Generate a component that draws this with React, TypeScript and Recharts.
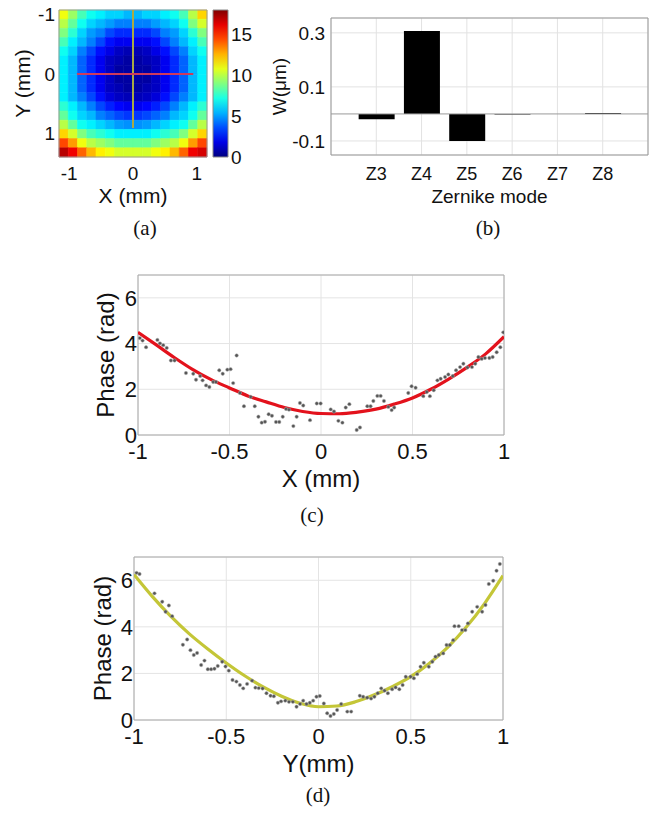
import React from 'react';
import {
  ComposedChart,
  BarChart,
  Bar,
  Line,
  Scatter,
  XAxis,
  YAxis,
  CartesianGrid,
  ReferenceArea,
  ReferenceLine,
  Label,
} from 'recharts';

// ---- (a) wavefront map, 16 x 16 cells, rows top (y=-1) to bottom (y=1.4)
const mapXDomain: [number, number] = [-1.16, 1.16];
const mapYDomain: [number, number] = [-1.08, 1.4];
const mapTicks = [-1, 0, 1];
const colorbarTicks = [0, 5, 10, 15];
const colorbarMax = 18;
const mapValues: number[][] = [
  [11, 9.5, 8, 7, 6.5, 6, 6, 5.5, 5.5, 6, 6, 6.5, 7, 8, 10, 12],
  [10, 8.5, 7, 6, 5.5, 5, 4.5, 4.5, 4.5, 4.5, 5, 5.5, 6, 7, 9, 10.5],
  [9, 7.5, 6, 5, 4.5, 3.5, 3, 3, 3, 3, 3.5, 4.5, 5, 6, 7.5, 9],
  [8, 6.5, 5.5, 4.5, 3.5, 2.5, 2, 2, 2, 2, 2.5, 3.5, 4.5, 5.5, 6.5, 8],
  [7, 6, 4.5, 3.5, 2.5, 1.8, 1.2, 0.9, 0.9, 1.2, 1.8, 2.5, 3.5, 4.5, 6, 7],
  [6.5, 5.5, 4, 3, 2, 1.2, 0.9, 0.6, 0.6, 0.9, 1.2, 2, 3, 4, 5.5, 6.5],
  [6.5, 5.5, 4, 3, 2, 1.2, 0.6, 0.6, 0.6, 0.6, 1.2, 2, 3, 4, 5.5, 6.5],
  [6.5, 5.5, 4, 3, 2, 1.2, 0.6, 0.6, 0.6, 0.6, 1.2, 2, 3, 4, 5.5, 6.5],
  [6.5, 5.5, 4, 3, 2, 1.2, 0.9, 0.6, 0.6, 0.9, 1.2, 2, 3, 4, 5.5, 6.5],
  [6.5, 5.5, 4.5, 3.5, 2.5, 1.6, 1.2, 1, 1, 1.2, 1.6, 2.5, 3.5, 4.5, 5.5, 6.5],
  [7.5, 6.5, 5.5, 4.5, 3.5, 2.8, 2.3, 2, 2, 2.3, 2.8, 3.5, 4.5, 5.5, 6.5, 7.5],
  [8.5, 7, 6, 5.5, 4.5, 4, 3.5, 3.2, 3.2, 3.5, 4, 4.5, 5.5, 6, 7, 8.5],
  [10, 8.5, 7, 6.5, 6, 5.5, 5, 4.8, 4.8, 5, 5.5, 6, 6.5, 7, 8.5, 10],
  [12, 10.5, 9, 8, 7.5, 7, 6.5, 6.5, 6.5, 6.5, 7, 7.5, 8, 9, 10.5, 12],
  [14.5, 13, 11, 10, 9.5, 9, 8.5, 8.5, 8.5, 8.5, 9, 9.5, 10, 11, 13, 14.5],
  [17, 16, 14, 12.5, 11.5, 11, 10.5, 10.5, 10.5, 10.5, 11, 11.5, 12.5, 14, 16, 16.5],
];
const crossH = [{ x: -0.88, y: 0 }, { x: 0.945, y: 0 }];
const crossV = [{ x: 0, y: -1.08 }, { x: 0, y: 0.91 }];

// ---- (b) Zernike coefficients
const zernikeModes = ['Z3', 'Z4', 'Z5', 'Z6', 'Z7', 'Z8'];
const zernikeIndex = [3, 4, 5, 6, 7, 8];
const zernikeValues = [-0.02, 0.307, -0.1, -0.002, 0, 0.003];
const zernikeTicks = [-0.1, 0.1, 0.3];

// ---- (c) phase along X
const phaseTicksX = [-1, -0.5, 0, 0.5, 1];
const phaseTicksY = [0, 2, 4, 6];
const xMeasX = [-0.99, -0.975, -0.956, -0.894, -0.88, -0.862, -0.843, -0.82, -0.8, -0.738, -0.698, -0.683, -0.66, -0.647, -0.628, -0.61, -0.589, -0.574, -0.556, -0.537, -0.512, -0.494, -0.48, -0.461, -0.443, -0.421, -0.384, -0.362, -0.342, -0.324, -0.306, -0.286, -0.268, -0.246, -0.228, -0.209, -0.191, -0.175, -0.151, -0.133, -0.115, -0.097, -0.06, -0.023, -0.002, 0.053, 0.071, 0.095, 0.117, 0.135, 0.155, 0.195, 0.213, 0.253, 0.271, 0.286, 0.308, 0.326, 0.344, 0.368, 0.386, 0.4, 0.477, 0.495, 0.517, 0.559, 0.578, 0.595, 0.616, 0.636, 0.654, 0.678, 0.696, 0.72, 0.738, 0.76, 0.778, 0.8, 0.825, 0.843, 0.86, 0.878, 0.896, 0.92, 0.938, 0.96, 0.98, 0.996];
const xMeasPhase = [4.24, 4.13, 3.84, 4.16, 4.01, 3.93, 3.81, 3.26, 3.26, 2.71, 2.68, 2.42, 2.58, 2.39, 2.17, 2.1, 2.32, 2.32, 2.83, 2.68, 2.86, 2.88, 2.27, 3.48, 1.84, 1.26, 1.67, 1.26, 0.8, 0.54, 0.58, 0.91, 0.84, 0.57, 0.57, 0.8, 1.14, 1.11, 0.39, 0.8, 1.4, 1.29, 0.65, 1.38, 1.38, 1.12, 1.03, 0.62, 0.54, 1.2, 1.35, 0.22, 0.33, 1.26, 1.26, 1.49, 1.71, 1.71, 1.49, 1.23, 1.09, 1.2, 1.84, 2.13, 2.07, 1.7, 1.88, 1.7, 1.96, 2.39, 2.46, 2.54, 2.65, 2.58, 2.83, 2.97, 3.12, 2.95, 2.97, 3.12, 3.41, 3.33, 3.37, 3.37, 3.41, 3.62, 3.84, 4.49];
const fitPos = [-1, -0.9, -0.8, -0.7, -0.6, -0.5, -0.4, -0.3, -0.2, -0.1, 0, 0.1, 0.2, 0.3, 0.4, 0.5, 0.6, 0.7, 0.8, 0.9, 1];
const xFitPhase = [4.49, 3.94, 3.38, 2.86, 2.42, 2.06, 1.71, 1.45, 1.2, 1.03, 0.94, 0.93, 1.0, 1.13, 1.35, 1.62, 2.0, 2.46, 2.97, 3.55, 4.3];

// ---- (d) phase along Y
const yMeasY = [-0.986, -0.97, -0.889, -0.847, -0.829, -0.811, -0.793, -0.735, -0.712, -0.694, -0.676, -0.658, -0.636, -0.618, -0.6, -0.582, -0.564, -0.546, -0.522, -0.504, -0.486, -0.466, -0.445, -0.426, -0.408, -0.387, -0.36, -0.342, -0.324, -0.303, -0.282, -0.26, -0.242, -0.22, -0.203, -0.18, -0.16, -0.139, -0.119, -0.1, -0.083, -0.065, -0.047, -0.029, -0.011, 0.007, 0.029, 0.047, 0.065, 0.083, 0.101, 0.123, 0.156, 0.177, 0.224, 0.242, 0.264, 0.285, 0.303, 0.321, 0.34, 0.358, 0.376, 0.399, 0.418, 0.438, 0.456, 0.473, 0.499, 0.517, 0.535, 0.553, 0.571, 0.598, 0.617, 0.634, 0.652, 0.676, 0.694, 0.712, 0.73, 0.737, 0.76, 0.778, 0.796, 0.81, 0.833, 0.86, 0.887, 0.905, 0.923, 0.947, 0.965, 0.983];
const yMeasPhase = [6.32, 6.27, 5.44, 5.08, 4.65, 4.92, 4.46, 3.23, 3.46, 3.0, 2.79, 2.88, 2.36, 2.55, 2.18, 2.18, 2.2, 2.32, 2.5, 2.3, 2.12, 1.72, 1.65, 1.5, 1.36, 1.55, 1.69, 1.39, 1.37, 1.35, 1.15, 1.04, 1.02, 0.74, 0.8, 0.83, 0.78, 0.78, 0.57, 0.69, 0.83, 0.69, 0.74, 0.83, 1.0, 1.03, 0.71, 0.29, 0.17, 0.26, 0.43, 0.69, 0.36, 0.36, 1.04, 1.0, 0.96, 0.92, 1.0, 1.15, 1.36, 1.26, 1.15, 1.32, 1.4, 1.32, 1.5, 1.86, 1.86, 1.79, 1.97, 2.29, 2.46, 2.29, 2.5, 2.72, 2.79, 2.86, 3.22, 3.22, 3.43, 4.03, 4.03, 3.86, 3.86, 4.15, 4.65, 4.86, 4.65, 4.94, 5.84, 5.98, 6.41, 6.7];
const yFitPhase = [6.25, 5.3, 4.45, 3.7, 3.05, 2.45, 1.9, 1.42, 1.02, 0.72, 0.57, 0.6, 0.78, 1.07, 1.43, 1.86, 2.43, 3.12, 3.98, 5.0, 6.2];

const zip = (xs: number[], ys: number[]) => xs.map((x, i) => ({ x, y: ys[i] }));

const clamp = (v: number) => Math.max(0, Math.min(1, v));
function jet(v: number) {
  const t = clamp(v / colorbarMax);
  const r = clamp(1.5 - Math.abs(4 * t - 3));
  const g = clamp(1.5 - Math.abs(4 * t - 2));
  const b = clamp(1.5 - Math.abs(4 * t - 1));
  return `rgb(${Math.round(r * 255)},${Math.round(g * 255)},${Math.round(b * 255)})`;
}

const ink = '#111';
const sans = 'Liberation Sans, Arial, sans-serif';
const noShape = () => <g />;

function WavefrontMap() {
  const rows = mapValues.length;
  const cols = mapValues[0].length;
  const dx = (mapXDomain[1] - mapXDomain[0]) / cols;
  const dy = (mapYDomain[1] - mapYDomain[0]) / rows;
  const cells: { x1: number; x2: number; y1: number; y2: number; v: number }[] = [];
  mapValues.forEach((row, r) =>
    row.forEach((v, c) =>
      cells.push({
        x1: mapXDomain[0] + c * dx,
        x2: mapXDomain[0] + (c + 1) * dx,
        y1: mapYDomain[0] + r * dy,
        y2: mapYDomain[0] + (r + 1) * dy,
        v,
      })
    )
  );
  const centers = cells.map((c) => ({ x: (c.x1 + c.x2) / 2, y: (c.y1 + c.y2) / 2 }));

  return (
    <ComposedChart width={212} height={215} margin={{ top: 10, right: 5, left: 0, bottom: 0 }}>
      <XAxis
        type="number"
        dataKey="x"
        domain={mapXDomain}
        ticks={mapTicks}
        allowDataOverflow
        height={58}
        tickLine={false}
        axisLine={false}
        tickSize={5}
        tickMargin={5}
        tick={{ fontSize: 19, fill: ink }}
      >
        <Label value="X (mm)" position="insideBottom" offset={12} style={{ fontSize: 21, fill: ink }} />
      </XAxis>
      <YAxis
        type="number"
        dataKey="y"
        domain={mapYDomain}
        reversed
        ticks={mapTicks}
        allowDataOverflow
        width={59}
        tickLine={false}
        axisLine={false}
        tickSize={0}
        tickMargin={4}
        tick={{ fontSize: 19, fill: ink }}
      >
        <Label value="Y (mm)" angle={-90} position="insideLeft" offset={23} style={{ fontSize: 21, fill: ink, textAnchor: 'middle' }} />
      </YAxis>
      {cells.map((c, i) => (
        <ReferenceArea
          key={i}
          x1={c.x1}
          x2={c.x2}
          y1={c.y1}
          y2={c.y2}
          fill={jet(c.v)}
          fillOpacity={1}
          stroke={jet(c.v)}
          strokeWidth={0.6}
        />
      ))}
      <Scatter data={centers} fill="none" isAnimationActive={false} shape={noShape} />
      <ReferenceLine segment={crossV} stroke="#a9aa45" strokeWidth={2} />
      <ReferenceLine segment={crossH} stroke="#cf3a5c" strokeWidth={2} />
      <ReferenceArea x1={mapXDomain[0]} x2={mapXDomain[1]} y1={mapYDomain[0]} y2={mapYDomain[1]} fill="none" stroke="#999" />
    </ComposedChart>
  );
}

function Colorbar() {
  const stops = [0, 0.1, 0.2, 0.3, 0.4, 0.5, 0.6, 0.7, 0.8, 0.9, 1];
  const anchor = [{ x: 0, y: 0 }, { x: 1, y: colorbarMax }];
  return (
    <ComposedChart width={60} height={215} margin={{ top: 10, right: 0, left: 8, bottom: 58 }}>
      <defs>
        <linearGradient id="jetGrad" x1="0" y1="1" x2="0" y2="0">
          {stops.map((s) => (
            <stop key={s} offset={`${s * 100}%`} stopColor={jet(s * colorbarMax)} />
          ))}
        </linearGradient>
      </defs>
      <XAxis type="number" dataKey="x" domain={[0, 1]} hide />
      <YAxis
        type="number"
        dataKey="y"
        orientation="right"
        domain={[0, colorbarMax]}
        ticks={colorbarTicks}
        allowDataOverflow
        width={37}
        tickLine={false}
        axisLine={false}
        tickSize={0}
        tickMargin={3}
        tick={{ fontSize: 19, fill: ink }}
      />
      <ReferenceArea x1={0} x2={1} y1={0} y2={colorbarMax} fill="url(#jetGrad)" fillOpacity={1} stroke="#888" />
      <Scatter data={anchor} fill="none" isAnimationActive={false} shape={noShape} />
    </ComposedChart>
  );
}

function ZernikeBars() {
  const data = zernikeIndex.map((m, i) => ({ mode: m, w: zernikeValues[i] }));
  return (
    <BarChart width={393} height={215} data={data} margin={{ top: 18, right: 15, left: 0, bottom: 0 }}>
      <CartesianGrid stroke="#e2e2e2" />
      <XAxis
        type="number"
        dataKey="mode"
        domain={[2, 9]}
        ticks={zernikeIndex}
        tickFormatter={(v: number) => zernikeModes[zernikeIndex.indexOf(v)] ?? ''}
        height={60}
        tickLine={false}
        axisLine={false}
        tickSize={6}
        tickMargin={6}
        tick={{ fontSize: 18, fill: ink }}
      >
        <Label value="Zernike mode" position="insideBottom" offset={12} style={{ fontSize: 19, fill: ink }} />
      </XAxis>
      <YAxis
        type="number"
        domain={[-0.152, 0.355]}
        ticks={zernikeTicks}
        allowDataOverflow
        width={61}
        tickLine={false}
        axisLine={false}
        tickSize={0}
        tickMargin={6}
        tick={{ fontSize: 19, fill: ink }}
      >
        <Label value="W(μm)" angle={-90} position="insideLeft" offset={9} style={{ fontSize: 19, fill: ink, textAnchor: 'middle' }} />
      </YAxis>
      <ReferenceLine y={0} stroke="#999" />
      <Bar dataKey="w" fill="#000" barSize={36} isAnimationActive={false} />
      <ReferenceArea x1={2} x2={9} y1={-0.152} y2={0.355} fill="none" stroke="#999" />
    </BarChart>
  );
}

function PhaseProfile(props: {
  meas: { x: number; y: number }[];
  fit: { x: number; y: number }[];
  color: string;
  xLabel: string;
  width: number;
  height: number;
  margin: { top: number; right: number; left: number; bottom: number };
  yAxisWidth: number;
  xAxisHeight: number;
  xLabelOffset: number;
  yLabelOffset: number;
}) {
  return (
    <ComposedChart width={props.width} height={props.height} margin={props.margin}>
      <CartesianGrid stroke="#e4e4e4" />
      <XAxis
        type="number"
        dataKey="x"
        domain={[-1, 1]}
        ticks={phaseTicksX}
        allowDataOverflow
        height={props.xAxisHeight}
        tickLine={false}
        axisLine={false}
        tickSize={4}
        tickMargin={4}
        tick={{ fontSize: 22, fill: ink }}
      >
        <Label value={props.xLabel} position="insideBottom" offset={props.xLabelOffset} style={{ fontSize: 24, fill: ink }} />
      </XAxis>
      <YAxis
        type="number"
        domain={[0, 7]}
        ticks={phaseTicksY}
        allowDataOverflow
        width={props.yAxisWidth}
        tickLine={false}
        axisLine={false}
        tickSize={0}
        tickMargin={1}
        tick={{ fontSize: 22, fill: ink }}
      >
        <Label value="Phase (rad)" angle={-90} position="insideLeft" offset={props.yLabelOffset} style={{ fontSize: 24, fill: ink, textAnchor: 'middle' }} />
      </YAxis>
      <ReferenceArea x1={-1} x2={1} y1={0} y2={7} fill="none" stroke="#aaa" />
      <Scatter
        data={props.meas}
        dataKey="y"
        isAnimationActive={false}
        shape={(p: any) => <circle cx={p.cx} cy={p.cy} r={1.7} fill="#555" stroke="#aaa" strokeWidth={0.5} />}
      />
      <Line
        data={props.fit}
        dataKey="y"
        type="monotone"
        stroke={props.color}
        strokeWidth={3.2}
        dot={false}
        isAnimationActive={false}
      />
    </ComposedChart>
  );
}

const caption: React.CSSProperties = {
  position: 'absolute',
  transform: 'translate(-50%, -50%)',
  fontFamily: 'Liberation Serif, Times New Roman, serif',
  fontSize: 21,
  color: ink,
  lineHeight: 1,
};

export default function App() {
  return (
    <div
      style={{
        position: 'absolute',
        left: 0,
        top: 0,
        width: 663,
        height: 815,
        background: '#fff',
        fontFamily: sans,
        overflow: 'hidden',
      }}
    >
      <div style={{ position: 'absolute', left: 0, top: 0 }}>
        <WavefrontMap />
      </div>
      <div style={{ position: 'absolute', left: 205, top: 0 }}>
        <Colorbar />
      </div>
      <div style={{ position: 'absolute', left: 270, top: 0 }}>
        <ZernikeBars />
      </div>
      <div style={{ position: 'absolute', left: 80, top: 250 }}>
        <PhaseProfile
          meas={zip(xMeasX, xMeasPhase)}
          fit={zip(fitPos, xFitPhase)}
          color="#e3121c"
          xLabel="X (mm)"
          width={440}
          height={250}
          margin={{ top: 25, right: 16, left: 0, bottom: 0 }}
          yAxisWidth={58}
          xAxisHeight={65}
          xLabelOffset={13}
          yLabelOffset={25}
        />
      </div>
      <div style={{ position: 'absolute', left: 80, top: 530 }}>
        <PhaseProfile
          meas={zip(yMeasY, yMeasPhase)}
          fit={zip(fitPos, yFitPhase)}
          color="#c4c637"
          xLabel="Y(mm)"
          width={440}
          height={260}
          margin={{ top: 27, right: 17, left: 0, bottom: 0 }}
          yAxisWidth={54}
          xAxisHeight={70}
          xLabelOffset={18}
          yLabelOffset={22}
        />
      </div>
      <div style={{ ...caption, left: 145, top: 228 }}>(a)</div>
      <div style={{ ...caption, left: 488, top: 228 }}>(b)</div>
      <div style={{ ...caption, left: 312, top: 515 }}>(c)</div>
      <div style={{ ...caption, left: 318, top: 795 }}>(d)</div>
    </div>
  );
}
